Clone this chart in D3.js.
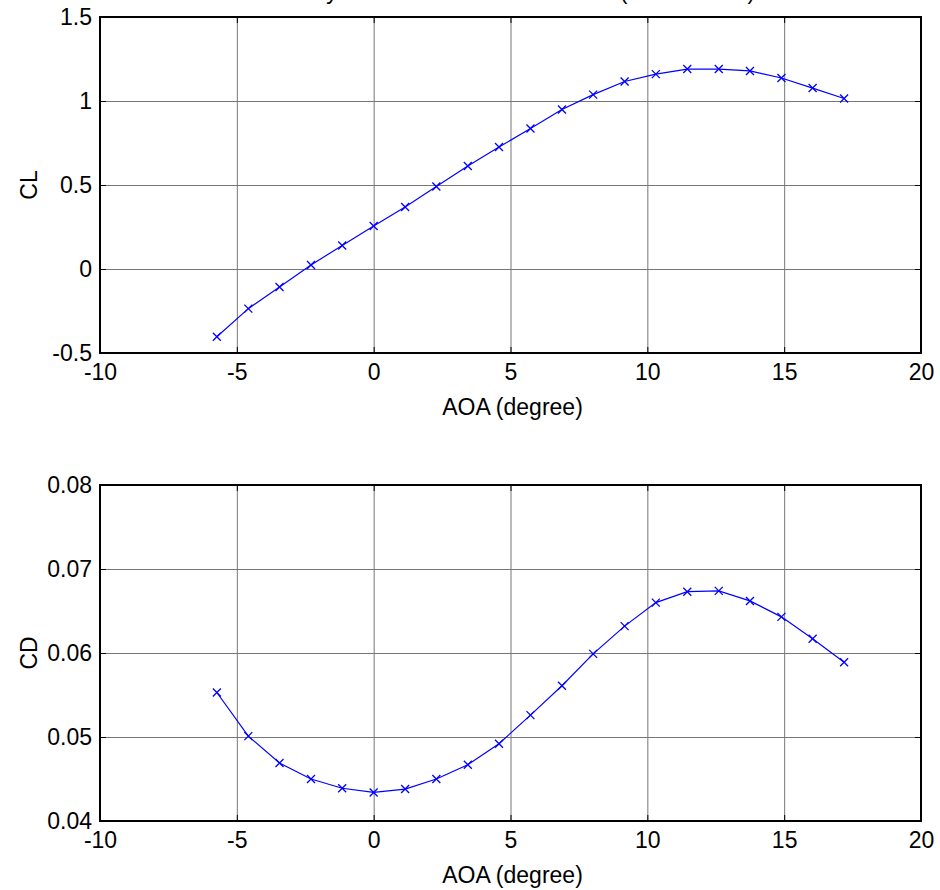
<!DOCTYPE html>
<html>
<head>
<meta charset="utf-8">
<script src="https://cdn.jsdelivr.net/npm/d3@7"></script>
<style>
  html, body { margin: 0; padding: 0; background: #fff; }
  svg { display: block; font-family: Arial, "Liberation Sans", sans-serif; }
</style>
</head>
<body>
<div id="chart"></div>
<script>
// CL / CD against angle of attack, two stacked panels

const aoa = [-5.73, -4.58, -3.44, -2.29, -1.15, 0, 1.15, 2.29, 3.44, 4.58, 5.73,
             6.88, 8.02, 9.17, 10.31, 11.46, 12.61, 13.75, 14.90, 16.04, 17.19];
const cl = [-0.403, -0.236, -0.107, 0.024, 0.140, 0.256, 0.369, 0.491, 0.613, 0.726, 0.836,
            0.949, 1.038, 1.116, 1.160, 1.190, 1.190, 1.179, 1.137, 1.077, 1.015];
const cd = [0.0553, 0.0501, 0.0469, 0.0450, 0.0439, 0.0434, 0.0438, 0.0450, 0.0467, 0.0492, 0.0526,
            0.0561, 0.0599, 0.0632, 0.0660, 0.0673, 0.0674, 0.0662, 0.0643, 0.0617, 0.0589];

const xTicks = [-10, -5, 0, 5, 10, 15, 20];
const clTicks = [-0.5, 0, 0.5, 1, 1.5];
const clTickLabels = ["-0.5", "0", "0.5", "1", "1.5"];
const cdTicks = [0.04, 0.05, 0.06, 0.07, 0.08];
const cdTickLabels = ["0.04", "0.05", "0.06", "0.07", "0.08"];

const width = 940, height = 890;
const fontSize = 23;

const svg = d3.select("#chart")
  .append("svg")
  .attr("width", width)
  .attr("height", height);

// title sits mostly above the page edge, only the descenders show
svg.append("text")
  .attr("x", 510)
  .attr("y", -1)
  .attr("text-anchor", "middle")
  .style("font-size", fontSize + "px")
  .text("Aerodynamic Coefficients of Airfoil (NACA 4412)");

function panel(opts) {
  const { top, bottom, values, yDomain, yTicks, yLabels, yTitle } = opts;
  const left = 100, right = 921;

  const x = d3.scaleLinear().domain([-10, 20]).range([left, right]);
  const y = d3.scaleLinear().domain(yDomain).range([bottom, top]);

  const g = svg.append("g");

  // grid
  g.append("g")
    .attr("transform", `translate(0,${bottom})`)
    .call(d3.axisBottom(x).tickValues(xTicks).tickSize(-(bottom - top)).tickFormat(""))
    .call(s => s.select(".domain").remove())
    .call(s => s.selectAll("line").attr("stroke", "#777"));
  g.append("g")
    .attr("transform", `translate(${left},0)`)
    .call(d3.axisLeft(y).tickValues(yTicks).tickSize(-(right - left)).tickFormat(""))
    .call(s => s.select(".domain").remove())
    .call(s => s.selectAll("line").attr("stroke", "#777"));

  // inward ticks on all four sides
  const tick = 6;
  g.append("g")
    .attr("transform", `translate(0,${bottom})`)
    .call(d3.axisBottom(x).tickValues(xTicks).tickSize(-tick).tickPadding(11))
    .call(s => s.select(".domain").remove())
    .call(s => s.selectAll("text")
      .text(d => String(d))
      .attr("fill", "#000")
      .style("font-size", fontSize + "px")
      .attr("font-family", null));
  g.append("g")
    .attr("transform", `translate(0,${top})`)
    .call(d3.axisTop(x).tickValues(xTicks).tickSize(-tick).tickFormat(""))
    .call(s => s.select(".domain").remove());
  g.append("g")
    .attr("transform", `translate(${left},0)`)
    .call(d3.axisLeft(y).tickValues(yTicks).tickSize(-tick).tickPadding(8)
      .tickFormat((d, i) => yLabels[i]))
    .call(s => s.select(".domain").remove())
    .call(s => s.selectAll("text")
      .attr("fill", "#000")
      .style("font-size", fontSize + "px")
      .attr("font-family", null));
  g.append("g")
    .attr("transform", `translate(${right},0)`)
    .call(d3.axisRight(y).tickValues(yTicks).tickSize(-tick).tickFormat(""))
    .call(s => s.select(".domain").remove());

  // box
  g.append("rect")
    .attr("x", left)
    .attr("y", top)
    .attr("width", right - left)
    .attr("height", bottom - top)
    .attr("fill", "none")
    .attr("stroke", "#000")
    .attr("stroke-width", 2);

  // curve
  const pts = aoa.map((a, i) => ({ a, v: values[i] }));
  const line = d3.line().x(d => x(d.a)).y(d => y(d.v));

  g.append("path")
    .datum(pts)
    .attr("fill", "none")
    .attr("stroke", "#0000ff")
    .attr("stroke-width", 1.2)
    .attr("d", line);

  g.selectAll("path.marker")
    .data(pts)
    .enter()
    .append("path")
    .attr("class", "marker")
    .attr("transform", d => `translate(${x(d.a)},${y(d.v)})`)
    .attr("d", "M-4,-4L4,4M-4,4L4,-4")
    .attr("fill", "none")
    .attr("stroke", "#0000ff")
    .attr("stroke-width", 1.3);

  // axis titles
  g.append("text")
    .attr("x", (left + right) / 2 + 2)
    .attr("y", bottom + 62)
    .attr("text-anchor", "middle")
    .style("font-size", fontSize + "px")
    .text("AOA (degree)");

  g.append("text")
    .attr("transform", `translate(37,${(top + bottom) / 2}) rotate(-90)`)
    .attr("text-anchor", "middle")
    .style("font-size", fontSize + "px")
    .text(yTitle);
}

panel({ top: 17, bottom: 353, values: cl, yDomain: [-0.5, 1.5],
        yTicks: clTicks, yLabels: clTickLabels, yTitle: "CL" });
panel({ top: 485, bottom: 821, values: cd, yDomain: [0.04, 0.08],
        yTicks: cdTicks, yLabels: cdTickLabels, yTitle: "CD" });
</script>
</body>
</html>
